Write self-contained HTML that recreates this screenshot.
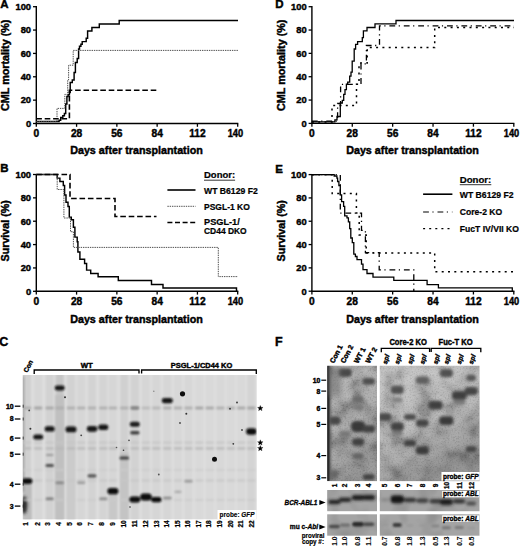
<!DOCTYPE html>
<html><head><meta charset="utf-8"><style>
html,body{margin:0;padding:0;background:#fff;}
body{width:520px;height:547px;overflow:hidden;}
svg{display:block;}
</style></head><body>
<svg width="520" height="547" viewBox="0 0 520 547" font-family="Liberation Sans, sans-serif">
<defs>
<filter id="b1" x="-50%" y="-100%" width="200%" height="300%"><feGaussianBlur stdDeviation="0.9"/></filter>
<filter id="b2" x="-50%" y="-100%" width="200%" height="300%"><feGaussianBlur stdDeviation="1.4"/></filter>
<filter id="b25" x="-50%" y="-100%" width="200%" height="300%"><feGaussianBlur stdDeviation="1.9"/></filter>
<linearGradient id="gv" x1="0" y1="0" x2="0.45" y2="1"><stop offset="0" stop-color="#fff" stop-opacity="0.16"/><stop offset="0.4" stop-color="#fff" stop-opacity="0.03"/><stop offset="0.6" stop-color="#000" stop-opacity="0.03"/><stop offset="1" stop-color="#000" stop-opacity="0.22"/></linearGradient>
<filter id="b3" x="-50%" y="-100%" width="200%" height="300%"><feGaussianBlur stdDeviation="2.2"/></filter>
<filter id="bl" x="-20%" y="-20%" width="140%" height="140%"><feGaussianBlur stdDeviation="0.6"/></filter>
<filter id="noiseF" x="0" y="0" width="100%" height="100%">
<feTurbulence type="fractalNoise" baseFrequency="0.18" numOctaves="3" seed="7" result="n"/>
<feColorMatrix in="n" type="matrix" values="0 0 0 0 0  0 0 0 0 0  0 0 0 0 0  0 0 0 -1.1 0.62" result="m"/>
<feComposite in="m" in2="SourceGraphic" operator="in"/>
</filter>
<filter id="noiseF2" x="0" y="0" width="100%" height="100%">
<feTurbulence type="fractalNoise" baseFrequency="0.05" numOctaves="2" seed="3" result="n"/>
<feColorMatrix in="n" type="matrix" values="0 0 0 0 0  0 0 0 0 0  0 0 0 0 0  0 0 0 -1.4 0.75" result="m"/>
<feComposite in="m" in2="SourceGraphic" operator="in"/>
</filter>
<filter id="grain" x="0" y="0" width="100%" height="100%"><feTurbulence type="fractalNoise" baseFrequency="0.6" numOctaves="2" seed="5"/><feColorMatrix type="matrix" values="2.6 0 0 0 -0.8  2.6 0 0 0 -0.8  2.6 0 0 0 -0.8  0 0 0 0 1"/><feGaussianBlur stdDeviation="0.35"/><feComposite operator="in" in2="SourceGraphic"/></filter>
<filter id="mottle" x="0" y="0" width="100%" height="100%"><feTurbulence type="fractalNoise" baseFrequency="0.06" numOctaves="3" seed="11"/><feColorMatrix type="matrix" values="2.6 0 0 0 -0.8  2.6 0 0 0 -0.8  2.6 0 0 0 -0.8  0 0 0 0 1"/><feGaussianBlur stdDeviation="1.2"/><feComposite operator="in" in2="SourceGraphic"/></filter>
</defs>
<rect width="520" height="547" fill="#fff"/>
<line x1="36.3" y1="6.1000000000000005" x2="36.3" y2="124.1" stroke="#000" stroke-width="1.4"/>
<line x1="35.699999999999996" y1="123.5" x2="238.29999999999998" y2="123.5" stroke="#000" stroke-width="1.4"/>
<line x1="33.0" y1="123.50" x2="36.3" y2="123.50" stroke="#000" stroke-width="1.3"/>
<text x="31.099999999999998" y="126.85" font-size="9.4" font-weight="bold" text-anchor="end" fill="#000" stroke="#000" stroke-width="0.42" >0</text>
<line x1="33.0" y1="100.14" x2="36.3" y2="100.14" stroke="#000" stroke-width="1.3"/>
<text x="31.099999999999998" y="103.49" font-size="9.4" font-weight="bold" text-anchor="end" fill="#000" stroke="#000" stroke-width="0.42" >20</text>
<line x1="33.0" y1="76.78" x2="36.3" y2="76.78" stroke="#000" stroke-width="1.3"/>
<text x="31.099999999999998" y="80.13" font-size="9.4" font-weight="bold" text-anchor="end" fill="#000" stroke="#000" stroke-width="0.42" >40</text>
<line x1="33.0" y1="53.42" x2="36.3" y2="53.42" stroke="#000" stroke-width="1.3"/>
<text x="31.099999999999998" y="56.77" font-size="9.4" font-weight="bold" text-anchor="end" fill="#000" stroke="#000" stroke-width="0.42" >60</text>
<line x1="33.0" y1="30.06" x2="36.3" y2="30.06" stroke="#000" stroke-width="1.3"/>
<text x="31.099999999999998" y="33.410000000000004" font-size="9.4" font-weight="bold" text-anchor="end" fill="#000" stroke="#000" stroke-width="0.42" >80</text>
<line x1="33.0" y1="6.70" x2="36.3" y2="6.70" stroke="#000" stroke-width="1.3"/>
<text x="31.099999999999998" y="10.050000000000002" font-size="9.4" font-weight="bold" text-anchor="end" fill="#000" stroke="#000" stroke-width="0.42" >100</text>
<line x1="36.30" y1="123.5" x2="36.30" y2="126.8" stroke="#000" stroke-width="1.3"/>
<text x="0" y="0" font-size="10.2" font-weight="bold" text-anchor="middle" fill="#000" stroke="#000" stroke-width="0.42" transform="translate(36.3,136.90) scale(1.0,1)">0</text>
<line x1="76.58" y1="123.5" x2="76.58" y2="126.8" stroke="#000" stroke-width="1.3"/>
<text x="0" y="0" font-size="10.2" font-weight="bold" text-anchor="middle" fill="#000" stroke="#000" stroke-width="0.42" transform="translate(76.58,136.90) scale(1.0,1)">28</text>
<line x1="116.86" y1="123.5" x2="116.86" y2="126.8" stroke="#000" stroke-width="1.3"/>
<text x="0" y="0" font-size="10.2" font-weight="bold" text-anchor="middle" fill="#000" stroke="#000" stroke-width="0.42" transform="translate(116.86,136.90) scale(1.0,1)">56</text>
<line x1="157.14" y1="123.5" x2="157.14" y2="126.8" stroke="#000" stroke-width="1.3"/>
<text x="0" y="0" font-size="10.2" font-weight="bold" text-anchor="middle" fill="#000" stroke="#000" stroke-width="0.42" transform="translate(157.14,136.90) scale(1.0,1)">84</text>
<line x1="197.42" y1="123.5" x2="197.42" y2="126.8" stroke="#000" stroke-width="1.3"/>
<text x="0" y="0" font-size="10.2" font-weight="bold" text-anchor="middle" fill="#000" stroke="#000" stroke-width="0.42" transform="translate(197.42,136.90) scale(1.0,1)">112</text>
<line x1="237.70" y1="123.5" x2="237.70" y2="126.8" stroke="#000" stroke-width="1.3"/>
<text x="0" y="0" font-size="10.2" font-weight="bold" text-anchor="middle" fill="#000" stroke="#000" stroke-width="0.42" transform="translate(235.4,136.90) scale(0.91,1)">140</text>
<text x="136.5" y="154.3" font-size="10.6" font-weight="bold" text-anchor="middle" textLength="132.7" lengthAdjust="spacingAndGlyphs" fill="#000" stroke="#000" stroke-width="0.42" >Days after transplantation</text>
<text x="0.3" y="8.2" font-size="11.5" font-weight="bold" text-anchor="start" fill="#000" stroke="#000" stroke-width="0.42" >A</text>
<text x="0" y="0" font-size="10.3" font-weight="bold" text-anchor="start" textLength="91.4" lengthAdjust="spacingAndGlyphs" fill="#000" stroke="#000" stroke-width="0.42" transform="translate(9.3,111.0) rotate(-90)">CML mortality (%)</text>
<path d="M36.30,121.40 L59.10,121.40 L59.10,120.20 L60.70,120.20 L60.70,117.50 L62.80,117.50 L62.80,115.80 L64.40,115.80 L64.40,113.40 L65.70,113.40 L65.70,103.90 L66.90,103.90 L66.90,96.50 L68.10,96.50 L68.10,94.80 L69.40,94.80 L69.40,92.40 L70.20,92.40 L70.20,82.40 L72.30,82.40 L72.30,79.90 L74.10,79.90 L74.10,72.40 L75.40,72.40 L75.40,62.50 L77.20,62.50 L77.20,58.50 L78.60,58.50 L78.60,49.00 L79.50,49.00 L79.50,46.30 L80.90,46.30 L80.90,44.30 L82.20,44.30 L82.20,41.60 L86.20,41.60 L86.20,38.30 L87.60,38.30 L87.60,30.90 L91.90,30.90 L91.90,27.50 L99.30,27.50 L99.30,23.90 L119.20,23.90 L119.20,20.50 L238.00,20.50 L238.00,20.50" fill="none" stroke="#000" stroke-width="1.45" stroke-linejoin="miter" stroke-linecap="butt" />
<path d="M36.30,121.60 L57.00,121.60 L57.00,108.40 L64.80,108.40 L64.80,94.40 L67.70,94.40 L67.70,80.00 L68.60,80.00 L68.60,65.20 L73.20,65.20 L73.20,50.40 L238.00,50.40 L238.00,50.40" fill="none" stroke="#505050" stroke-width="1.0" stroke-dasharray="1.4,0.9" stroke-linejoin="miter" stroke-linecap="butt" />
<path d="M36.30,118.70 L69.40,118.70 L69.40,90.30 L157.00,90.30 L157.00,90.30" fill="none" stroke="#000" stroke-width="1.6" stroke-dasharray="5.6,2.8" stroke-linejoin="miter" stroke-linecap="butt" />
<line x1="36.3" y1="173.9" x2="36.3" y2="291.90000000000003" stroke="#000" stroke-width="1.4"/>
<line x1="35.699999999999996" y1="291.3" x2="238.29999999999998" y2="291.3" stroke="#000" stroke-width="1.4"/>
<line x1="33.0" y1="291.30" x2="36.3" y2="291.30" stroke="#000" stroke-width="1.3"/>
<text x="31.099999999999998" y="294.65000000000003" font-size="9.4" font-weight="bold" text-anchor="end" fill="#000" stroke="#000" stroke-width="0.42" >0</text>
<line x1="33.0" y1="267.94" x2="36.3" y2="267.94" stroke="#000" stroke-width="1.3"/>
<text x="31.099999999999998" y="271.29" font-size="9.4" font-weight="bold" text-anchor="end" fill="#000" stroke="#000" stroke-width="0.42" >20</text>
<line x1="33.0" y1="244.58" x2="36.3" y2="244.58" stroke="#000" stroke-width="1.3"/>
<text x="31.099999999999998" y="247.93" font-size="9.4" font-weight="bold" text-anchor="end" fill="#000" stroke="#000" stroke-width="0.42" >40</text>
<line x1="33.0" y1="221.22" x2="36.3" y2="221.22" stroke="#000" stroke-width="1.3"/>
<text x="31.099999999999998" y="224.57" font-size="9.4" font-weight="bold" text-anchor="end" fill="#000" stroke="#000" stroke-width="0.42" >60</text>
<line x1="33.0" y1="197.86" x2="36.3" y2="197.86" stroke="#000" stroke-width="1.3"/>
<text x="31.099999999999998" y="201.21" font-size="9.4" font-weight="bold" text-anchor="end" fill="#000" stroke="#000" stroke-width="0.42" >80</text>
<line x1="33.0" y1="174.50" x2="36.3" y2="174.50" stroke="#000" stroke-width="1.3"/>
<text x="31.099999999999998" y="177.85" font-size="9.4" font-weight="bold" text-anchor="end" fill="#000" stroke="#000" stroke-width="0.42" >100</text>
<line x1="36.30" y1="291.3" x2="36.30" y2="294.6" stroke="#000" stroke-width="1.3"/>
<text x="0" y="0" font-size="10.2" font-weight="bold" text-anchor="middle" fill="#000" stroke="#000" stroke-width="0.42" transform="translate(36.3,304.70) scale(1.0,1)">0</text>
<line x1="76.58" y1="291.3" x2="76.58" y2="294.6" stroke="#000" stroke-width="1.3"/>
<text x="0" y="0" font-size="10.2" font-weight="bold" text-anchor="middle" fill="#000" stroke="#000" stroke-width="0.42" transform="translate(76.58,304.70) scale(1.0,1)">28</text>
<line x1="116.86" y1="291.3" x2="116.86" y2="294.6" stroke="#000" stroke-width="1.3"/>
<text x="0" y="0" font-size="10.2" font-weight="bold" text-anchor="middle" fill="#000" stroke="#000" stroke-width="0.42" transform="translate(116.86,304.70) scale(1.0,1)">56</text>
<line x1="157.14" y1="291.3" x2="157.14" y2="294.6" stroke="#000" stroke-width="1.3"/>
<text x="0" y="0" font-size="10.2" font-weight="bold" text-anchor="middle" fill="#000" stroke="#000" stroke-width="0.42" transform="translate(157.14,304.70) scale(1.0,1)">84</text>
<line x1="197.42" y1="291.3" x2="197.42" y2="294.6" stroke="#000" stroke-width="1.3"/>
<text x="0" y="0" font-size="10.2" font-weight="bold" text-anchor="middle" fill="#000" stroke="#000" stroke-width="0.42" transform="translate(197.42,304.70) scale(1.0,1)">112</text>
<line x1="237.70" y1="291.3" x2="237.70" y2="294.6" stroke="#000" stroke-width="1.3"/>
<text x="0" y="0" font-size="10.2" font-weight="bold" text-anchor="middle" fill="#000" stroke="#000" stroke-width="0.42" transform="translate(235.4,304.70) scale(0.91,1)">140</text>
<text x="136.5" y="322.7" font-size="10.6" font-weight="bold" text-anchor="middle" textLength="132.7" lengthAdjust="spacingAndGlyphs" fill="#000" stroke="#000" stroke-width="0.42" >Days after transplantation</text>
<text x="0.3" y="171.7" font-size="11.5" font-weight="bold" text-anchor="start" fill="#000" stroke="#000" stroke-width="0.42" >B</text>
<text x="0" y="0" font-size="10.3" font-weight="bold" text-anchor="start" textLength="61.2" lengthAdjust="spacingAndGlyphs" fill="#000" stroke="#000" stroke-width="0.42" transform="translate(9.1,261.4) rotate(-90)">Survival (%)</text>
<path d="M36.30,174.50 L57.20,174.50 L57.20,178.10 L59.90,178.10 L59.90,181.50 L63.30,181.50 L63.30,185.50 L64.60,185.50 L64.60,194.90 L66.00,194.90 L66.00,202.30 L68.00,202.30 L68.00,206.40 L69.30,206.40 L69.30,217.10 L71.30,217.10 L71.30,219.80 L73.40,219.80 L73.40,227.20 L74.90,227.20 L74.90,237.10 L77.20,237.10 L77.20,241.80 L77.90,241.80 L77.90,251.90 L79.90,251.90 L79.90,259.30 L84.60,259.30 L84.60,263.40 L86.60,263.40 L86.60,270.10 L90.70,270.10 L90.70,273.50 L98.10,273.50 L98.10,276.80 L118.30,276.80 L118.30,280.50 L151.50,280.50 L151.50,284.40 L163.00,284.40 L163.00,288.00 L236.50,288.00 L236.50,291.30" fill="none" stroke="#000" stroke-width="1.45" stroke-linejoin="miter" stroke-linecap="butt" />
<path d="M36.30,174.50 L57.20,174.50 L57.20,189.50 L63.90,189.50 L63.90,218.00 L70.50,218.00 L70.50,231.70 L73.40,231.70 L73.40,247.40 L218.30,247.40 L218.30,276.60 L238.00,276.60 L238.00,276.60" fill="none" stroke="#505050" stroke-width="1.0" stroke-dasharray="1.4,0.9" stroke-linejoin="miter" stroke-linecap="butt" />
<path d="M36.30,174.50 L70.00,174.50 L70.00,198.50 L115.00,198.50 L115.00,216.50 L156.50,216.50 L156.50,216.50" fill="none" stroke="#000" stroke-width="1.6" stroke-dasharray="5.6,2.8" stroke-linejoin="miter" stroke-linecap="butt" />
<text x="204" y="177.7" font-size="9.3" font-weight="bold" text-anchor="start" textLength="31.1" lengthAdjust="spacingAndGlyphs" fill="#000" stroke="#000" stroke-width="0.22" >Donor:</text>
<line x1="204" y1="180.2" x2="235.1" y2="180.2" stroke="#000" stroke-width="0.8"/>
<line x1="167.4" y1="190" x2="195.5" y2="190" stroke="#000" stroke-width="1.6"/>
<text x="204" y="193.6" font-size="9.2" font-weight="bold" text-anchor="start" textLength="53.7" lengthAdjust="spacingAndGlyphs" fill="#000" stroke="#000" stroke-width="0.22" >WT B6129 F2</text>
<line x1="167.4" y1="206.3" x2="195.5" y2="206.3" stroke="#505050" stroke-width="1.0" stroke-dasharray="1.4,0.9"/>
<text x="204" y="209.8" font-size="9.2" font-weight="bold" text-anchor="start" textLength="45.9" lengthAdjust="spacingAndGlyphs" fill="#000" stroke="#000" stroke-width="0.22" >PSGL-1 KO</text>
<line x1="167.4" y1="222.5" x2="195.5" y2="222.5" stroke="#000" stroke-width="1.6" stroke-dasharray="5,2.6"/>
<text x="204" y="224.7" font-size="9.2" font-weight="bold" text-anchor="start" fill="#000" stroke="#000" stroke-width="0.22" >PSGL-1/</text>
<text x="204" y="234.4" font-size="9.2" font-weight="bold" text-anchor="start" textLength="42.7" lengthAdjust="spacingAndGlyphs" fill="#000" stroke="#000" stroke-width="0.22" >CD44 DKO</text>
<line x1="311.9" y1="6.1000000000000005" x2="311.9" y2="124.0" stroke="#000" stroke-width="1.4"/>
<line x1="311.29999999999995" y1="123.4" x2="514.4" y2="123.4" stroke="#000" stroke-width="1.4"/>
<line x1="308.59999999999997" y1="123.40" x2="311.9" y2="123.40" stroke="#000" stroke-width="1.3"/>
<text x="306.7" y="126.75" font-size="9.4" font-weight="bold" text-anchor="end" fill="#000" stroke="#000" stroke-width="0.42" >0</text>
<line x1="308.59999999999997" y1="100.06" x2="311.9" y2="100.06" stroke="#000" stroke-width="1.3"/>
<text x="306.7" y="103.41" font-size="9.4" font-weight="bold" text-anchor="end" fill="#000" stroke="#000" stroke-width="0.42" >20</text>
<line x1="308.59999999999997" y1="76.72" x2="311.9" y2="76.72" stroke="#000" stroke-width="1.3"/>
<text x="306.7" y="80.07" font-size="9.4" font-weight="bold" text-anchor="end" fill="#000" stroke="#000" stroke-width="0.42" >40</text>
<line x1="308.59999999999997" y1="53.38" x2="311.9" y2="53.38" stroke="#000" stroke-width="1.3"/>
<text x="306.7" y="56.73" font-size="9.4" font-weight="bold" text-anchor="end" fill="#000" stroke="#000" stroke-width="0.42" >60</text>
<line x1="308.59999999999997" y1="30.04" x2="311.9" y2="30.04" stroke="#000" stroke-width="1.3"/>
<text x="306.7" y="33.39000000000001" font-size="9.4" font-weight="bold" text-anchor="end" fill="#000" stroke="#000" stroke-width="0.42" >80</text>
<line x1="308.59999999999997" y1="6.70" x2="311.9" y2="6.70" stroke="#000" stroke-width="1.3"/>
<text x="306.7" y="10.050000000000002" font-size="9.4" font-weight="bold" text-anchor="end" fill="#000" stroke="#000" stroke-width="0.42" >100</text>
<line x1="311.90" y1="123.4" x2="311.90" y2="126.7" stroke="#000" stroke-width="1.3"/>
<text x="0" y="0" font-size="10.2" font-weight="bold" text-anchor="middle" fill="#000" stroke="#000" stroke-width="0.42" transform="translate(311.9,136.80) scale(1.0,1)">0</text>
<line x1="352.28" y1="123.4" x2="352.28" y2="126.7" stroke="#000" stroke-width="1.3"/>
<text x="0" y="0" font-size="10.2" font-weight="bold" text-anchor="middle" fill="#000" stroke="#000" stroke-width="0.42" transform="translate(352.28,136.80) scale(1.0,1)">28</text>
<line x1="392.66" y1="123.4" x2="392.66" y2="126.7" stroke="#000" stroke-width="1.3"/>
<text x="0" y="0" font-size="10.2" font-weight="bold" text-anchor="middle" fill="#000" stroke="#000" stroke-width="0.42" transform="translate(392.66,136.80) scale(1.0,1)">56</text>
<line x1="433.04" y1="123.4" x2="433.04" y2="126.7" stroke="#000" stroke-width="1.3"/>
<text x="0" y="0" font-size="10.2" font-weight="bold" text-anchor="middle" fill="#000" stroke="#000" stroke-width="0.42" transform="translate(433.04,136.80) scale(1.0,1)">84</text>
<line x1="473.42" y1="123.4" x2="473.42" y2="126.7" stroke="#000" stroke-width="1.3"/>
<text x="0" y="0" font-size="10.2" font-weight="bold" text-anchor="middle" fill="#000" stroke="#000" stroke-width="0.42" transform="translate(473.42,136.80) scale(1.0,1)">112</text>
<line x1="513.80" y1="123.4" x2="513.80" y2="126.7" stroke="#000" stroke-width="1.3"/>
<text x="0" y="0" font-size="10.2" font-weight="bold" text-anchor="middle" fill="#000" stroke="#000" stroke-width="0.42" transform="translate(511.5,136.80) scale(0.91,1)">140</text>
<text x="412.5" y="154.3" font-size="10.6" font-weight="bold" text-anchor="middle" textLength="132.7" lengthAdjust="spacingAndGlyphs" fill="#000" stroke="#000" stroke-width="0.42" >Days after transplantation</text>
<text x="275.2" y="8.4" font-size="11.5" font-weight="bold" text-anchor="start" fill="#000" stroke="#000" stroke-width="0.42" >D</text>
<text x="0" y="0" font-size="10.3" font-weight="bold" text-anchor="start" textLength="91.4" lengthAdjust="spacingAndGlyphs" fill="#000" stroke="#000" stroke-width="0.42" transform="translate(285.2,111.0) rotate(-90)">CML mortality (%)</text>
<path d="M311.90,121.90 L334.90,121.90 L334.90,119.90 L337.00,119.90 L337.00,116.50 L340.30,116.50 L340.30,103.00 L342.30,103.00 L342.30,100.40 L343.70,100.40 L343.70,94.30 L345.00,94.30 L345.00,89.60 L346.40,89.60 L346.40,84.20 L347.70,84.20 L347.70,82.20 L349.70,82.20 L349.70,76.20 L351.00,76.20 L351.00,72.10 L352.20,72.10 L352.20,61.10 L354.20,61.10 L354.20,49.00 L355.60,49.00 L355.60,44.30 L357.60,44.30 L357.60,41.60 L362.30,41.60 L362.30,37.60 L363.40,37.60 L363.40,30.90 L367.00,30.90 L367.00,27.50 L375.00,27.50 L375.00,23.90 L396.00,23.90 L396.00,20.50 L514.00,20.50 L514.00,20.50" fill="none" stroke="#000" stroke-width="1.3" stroke-linejoin="miter" stroke-linecap="butt" />
<path d="M311.90,121.20 L337.60,121.20 L337.60,103.50 L340.60,103.50 L340.60,84.30 L361.00,84.30 L361.00,63.80 L366.40,63.80 L366.40,45.50 L379.50,45.50 L379.50,25.90 L514.00,25.90 L514.00,25.90" fill="none" stroke="#000" stroke-width="1.3" stroke-dasharray="5.8,3.5,1.2,3.9" stroke-linejoin="miter" stroke-linecap="butt" />
<path d="M311.90,122.00 L332.00,122.00 L332.00,105.50 L356.50,105.50 L356.50,84.30 L359.00,84.30 L359.00,63.00 L367.20,63.00 L367.20,47.60 L434.70,47.60 L434.70,27.60 L514.00,27.60 L514.00,27.60" fill="none" stroke="#000" stroke-width="1.5" stroke-dasharray="2,4.3" stroke-linejoin="miter" stroke-linecap="butt" />
<line x1="311.9" y1="174.0" x2="311.9" y2="291.8" stroke="#000" stroke-width="1.4"/>
<line x1="311.29999999999995" y1="291.2" x2="514.4" y2="291.2" stroke="#000" stroke-width="1.4"/>
<line x1="308.59999999999997" y1="291.20" x2="311.9" y2="291.20" stroke="#000" stroke-width="1.3"/>
<text x="306.7" y="294.55" font-size="9.4" font-weight="bold" text-anchor="end" fill="#000" stroke="#000" stroke-width="0.42" >0</text>
<line x1="308.59999999999997" y1="267.88" x2="311.9" y2="267.88" stroke="#000" stroke-width="1.3"/>
<text x="306.7" y="271.23" font-size="9.4" font-weight="bold" text-anchor="end" fill="#000" stroke="#000" stroke-width="0.42" >20</text>
<line x1="308.59999999999997" y1="244.56" x2="311.9" y2="244.56" stroke="#000" stroke-width="1.3"/>
<text x="306.7" y="247.91" font-size="9.4" font-weight="bold" text-anchor="end" fill="#000" stroke="#000" stroke-width="0.42" >40</text>
<line x1="308.59999999999997" y1="221.24" x2="311.9" y2="221.24" stroke="#000" stroke-width="1.3"/>
<text x="306.7" y="224.59" font-size="9.4" font-weight="bold" text-anchor="end" fill="#000" stroke="#000" stroke-width="0.42" >60</text>
<line x1="308.59999999999997" y1="197.92" x2="311.9" y2="197.92" stroke="#000" stroke-width="1.3"/>
<text x="306.7" y="201.26999999999998" font-size="9.4" font-weight="bold" text-anchor="end" fill="#000" stroke="#000" stroke-width="0.42" >80</text>
<line x1="308.59999999999997" y1="174.60" x2="311.9" y2="174.60" stroke="#000" stroke-width="1.3"/>
<text x="306.7" y="177.95" font-size="9.4" font-weight="bold" text-anchor="end" fill="#000" stroke="#000" stroke-width="0.42" >100</text>
<line x1="311.90" y1="291.2" x2="311.90" y2="294.5" stroke="#000" stroke-width="1.3"/>
<text x="0" y="0" font-size="10.2" font-weight="bold" text-anchor="middle" fill="#000" stroke="#000" stroke-width="0.42" transform="translate(311.9,304.60) scale(1.0,1)">0</text>
<line x1="352.28" y1="291.2" x2="352.28" y2="294.5" stroke="#000" stroke-width="1.3"/>
<text x="0" y="0" font-size="10.2" font-weight="bold" text-anchor="middle" fill="#000" stroke="#000" stroke-width="0.42" transform="translate(352.28,304.60) scale(1.0,1)">28</text>
<line x1="392.66" y1="291.2" x2="392.66" y2="294.5" stroke="#000" stroke-width="1.3"/>
<text x="0" y="0" font-size="10.2" font-weight="bold" text-anchor="middle" fill="#000" stroke="#000" stroke-width="0.42" transform="translate(392.66,304.60) scale(1.0,1)">56</text>
<line x1="433.04" y1="291.2" x2="433.04" y2="294.5" stroke="#000" stroke-width="1.3"/>
<text x="0" y="0" font-size="10.2" font-weight="bold" text-anchor="middle" fill="#000" stroke="#000" stroke-width="0.42" transform="translate(433.04,304.60) scale(1.0,1)">84</text>
<line x1="473.42" y1="291.2" x2="473.42" y2="294.5" stroke="#000" stroke-width="1.3"/>
<text x="0" y="0" font-size="10.2" font-weight="bold" text-anchor="middle" fill="#000" stroke="#000" stroke-width="0.42" transform="translate(473.42,304.60) scale(1.0,1)">112</text>
<line x1="513.80" y1="291.2" x2="513.80" y2="294.5" stroke="#000" stroke-width="1.3"/>
<text x="0" y="0" font-size="10.2" font-weight="bold" text-anchor="middle" fill="#000" stroke="#000" stroke-width="0.42" transform="translate(511.5,304.60) scale(0.91,1)">140</text>
<text x="412.5" y="322.7" font-size="10.6" font-weight="bold" text-anchor="middle" textLength="132.7" lengthAdjust="spacingAndGlyphs" fill="#000" stroke="#000" stroke-width="0.42" >Days after transplantation</text>
<text x="275.2" y="173.4" font-size="11.5" font-weight="bold" text-anchor="start" fill="#000" stroke="#000" stroke-width="0.42" >E</text>
<text x="0" y="0" font-size="10.3" font-weight="bold" text-anchor="start" textLength="61.2" lengthAdjust="spacingAndGlyphs" fill="#000" stroke="#000" stroke-width="0.42" transform="translate(284.6,261.4) rotate(-90)">Survival (%)</text>
<path d="M311.90,174.60 L334.20,174.60 L334.20,176.00 L336.90,176.00 L336.90,178.10 L337.60,178.10 L337.60,181.50 L338.90,181.50 L338.90,185.50 L340.30,185.50 L340.30,194.90 L341.60,194.90 L341.60,201.60 L343.60,201.60 L343.60,206.40 L344.70,206.40 L344.70,215.80 L347.00,215.80 L347.00,217.80 L348.40,217.80 L348.40,221.80 L349.70,221.80 L349.70,228.60 L350.80,228.60 L350.80,238.00 L352.30,238.00 L352.30,242.70 L353.80,242.70 L353.80,254.20 L355.40,254.20 L355.40,256.50 L357.00,256.50 L357.00,259.60 L361.50,259.60 L361.50,264.20 L363.00,264.20 L363.00,269.60 L367.00,269.60 L367.00,273.50 L373.00,273.50 L373.00,277.20 L393.80,277.20 L393.80,280.40 L427.10,280.40 L427.10,284.60 L438.40,284.60 L438.40,287.90 L512.30,287.90 L512.30,291.20" fill="none" stroke="#000" stroke-width="1.3" stroke-linejoin="miter" stroke-linecap="butt" />
<path d="M311.90,174.60 L340.30,174.60 L340.30,213.10 L361.50,213.10 L361.50,230.40 L365.40,230.40 L365.40,252.70 L379.20,252.70 L379.20,269.80 L413.80,269.80 L413.80,291.20" fill="none" stroke="#000" stroke-width="1.3" stroke-dasharray="5.8,3.5,1.2,3.9" stroke-linejoin="miter" stroke-linecap="butt" />
<path d="M311.90,174.80 L332.20,174.80 L332.20,193.60 L356.40,193.60 L356.40,213.10 L359.20,213.10 L359.20,235.00 L366.20,235.00 L366.20,252.90 L434.70,252.90 L434.70,271.80 L514.00,271.80 L514.00,271.80" fill="none" stroke="#000" stroke-width="1.5" stroke-dasharray="2,4.3" stroke-linejoin="miter" stroke-linecap="butt" />
<text x="459.8" y="182.5" font-size="9.3" font-weight="bold" text-anchor="start" textLength="31.5" lengthAdjust="spacingAndGlyphs" fill="#000" stroke="#000" stroke-width="0.22" >Donor:</text>
<line x1="459.8" y1="184.7" x2="491.3" y2="184.7" stroke="#000" stroke-width="0.8"/>
<line x1="423.1" y1="194.2" x2="452.4" y2="194.2" stroke="#000" stroke-width="1.6"/>
<text x="459.8" y="198.3" font-size="9.2" font-weight="bold" text-anchor="start" textLength="53.7" lengthAdjust="spacingAndGlyphs" fill="#000" stroke="#000" stroke-width="0.22" >WT B6129 F2</text>
<line x1="423.1" y1="212" x2="452.4" y2="212" stroke="#000" stroke-width="1.2" stroke-dasharray="5.8,3.5,1.2,3.9"/>
<text x="459.8" y="214.8" font-size="9.2" font-weight="bold" text-anchor="start" textLength="42.4" lengthAdjust="spacingAndGlyphs" fill="#000" stroke="#000" stroke-width="0.22" >Core-2 KO</text>
<line x1="423.1" y1="228.6" x2="452.4" y2="228.6" stroke="#000" stroke-width="1.4" stroke-dasharray="2,4.1"/>
<text x="459.8" y="231.6" font-size="9.2" font-weight="bold" text-anchor="start" textLength="59.2" lengthAdjust="spacingAndGlyphs" fill="#000" stroke="#000" stroke-width="0.22" >FucT IV/VII KO</text>
<text x="-0.8" y="346.2" font-size="12.5" font-weight="bold" text-anchor="start" fill="#000" stroke="#000" stroke-width="0.42" >C</text>
<rect x="22.8" y="375.0" width="233.9" height="144.2" fill="#dedede"/>
<clipPath id="gc"><rect x="22.8" y="375.0" width="233.9" height="144.2"/></clipPath>
<g clip-path="url(#gc)">
<g filter="url(#b1)">
<rect x="23.2" y="372.0" width="8.0" height="150.2" fill="#d0d0d0"/>
<rect x="34.2" y="372.0" width="8.0" height="150.2" fill="#d6d6d6"/>
<rect x="45.7" y="372.0" width="8.0" height="150.2" fill="#d2d2d2"/>
<rect x="55.7" y="372.0" width="8.0" height="150.2" fill="#c6c6c6"/>
<rect x="67.0" y="372.0" width="8.0" height="150.2" fill="#d2d2d2"/>
<rect x="77.2" y="372.0" width="8.0" height="150.2" fill="#d6d6d6"/>
<rect x="88.0" y="372.0" width="8.0" height="150.2" fill="#d3d3d3"/>
<rect x="99.3" y="372.0" width="8.0" height="150.2" fill="#d4d4d4"/>
<rect x="108.9" y="372.0" width="8.0" height="150.2" fill="#d6d6d6"/>
<rect x="120.3" y="372.0" width="8.0" height="150.2" fill="#d0d0d0"/>
<rect x="130.8" y="372.0" width="8.0" height="150.2" fill="#d2d2d2"/>
<rect x="141.9" y="372.0" width="8.0" height="150.2" fill="#d6d6d6"/>
<rect x="152.3" y="372.0" width="8.0" height="150.2" fill="#d6d6d6"/>
<rect x="163.3" y="372.0" width="8.0" height="150.2" fill="#d6d6d6"/>
<rect x="174.0" y="372.0" width="8.0" height="150.2" fill="#d8d8d8"/>
<rect x="184.5" y="372.0" width="8.0" height="150.2" fill="#d7d7d7"/>
<rect x="195.3" y="372.0" width="8.0" height="150.2" fill="#d9d9d9"/>
<rect x="205.8" y="372.0" width="8.0" height="150.2" fill="#d9d9d9"/>
<rect x="216.4" y="372.0" width="8.0" height="150.2" fill="#d8d8d8"/>
<rect x="226.9" y="372.0" width="8.0" height="150.2" fill="#d9d9d9"/>
<rect x="237.2" y="372.0" width="8.0" height="150.2" fill="#d9d9d9"/>
<rect x="247.3" y="372.0" width="8.0" height="150.2" fill="#d4d4d4"/>
</g>
<rect x="108.6" y="488" width="8.6" height="40" fill="#c8c8c8" filter="url(#b1)"/>
<rect x="120.0" y="452" width="8.6" height="72" fill="#c4c4c4" filter="url(#b1)"/>
<rect x="66.7" y="425" width="8.6" height="100" fill="#cbcbcb" filter="url(#b1)"/>
<rect x="55.4" y="395" width="8.6" height="130" fill="#c0c0c0" filter="url(#b1)"/>
<rect x="22.8" y="484" width="9" height="40" fill="#bcbcbc" filter="url(#b1)"/>
<ellipse cx="24.3" cy="505" rx="3" ry="9" fill="#2a2a2a" filter="url(#b2)"/>
<rect x="20.8" y="376" width="3.2" height="116" fill="#9a9a9a" filter="url(#b2)"/>
<g filter="url(#b1)">
<rect x="23.2" y="406.7" width="8" height="2.6" fill="#acacac"/>
<rect x="34.2" y="406.7" width="8" height="2.6" fill="#a0a0a0"/>
<rect x="45.7" y="406.7" width="8" height="2.6" fill="#a4a4a4"/>
<rect x="55.7" y="406.7" width="8" height="2.6" fill="#acacac"/>
<rect x="67.0" y="406.7" width="8" height="2.6" fill="#acacac"/>
<rect x="77.2" y="406.7" width="8" height="2.6" fill="#acacac"/>
<rect x="88.0" y="406.7" width="8" height="2.6" fill="#acacac"/>
<rect x="99.3" y="406.7" width="8" height="2.6" fill="#acacac"/>
<rect x="108.9" y="406.7" width="8" height="2.6" fill="#acacac"/>
<rect x="120.3" y="406.7" width="8" height="2.6" fill="#acacac"/>
<rect x="130.8" y="406.7" width="8" height="2.6" fill="#acacac"/>
<rect x="141.9" y="406.7" width="8" height="2.6" fill="#b8b8b8"/>
<rect x="152.3" y="406.7" width="8" height="2.6" fill="#b4b4b4"/>
<rect x="163.3" y="406.7" width="8" height="2.6" fill="#a8a8a8"/>
<rect x="174.0" y="406.7" width="8" height="2.6" fill="#acacac"/>
<rect x="184.5" y="406.7" width="8" height="2.6" fill="#acacac"/>
<rect x="195.3" y="406.7" width="8" height="2.6" fill="#a0a0a0"/>
<rect x="205.8" y="406.7" width="8" height="2.6" fill="#a4a4a4"/>
<rect x="216.4" y="406.7" width="8" height="2.6" fill="#acacac"/>
<rect x="226.9" y="406.7" width="8" height="2.6" fill="#acacac"/>
<rect x="237.2" y="406.7" width="8" height="2.6" fill="#a4a4a4"/>
<rect x="247.3" y="406.7" width="8" height="2.6" fill="#a0a0a0"/>
<rect x="23.2" y="441.6" width="8" height="2.0" fill="#c6c6c6"/>
<rect x="34.2" y="441.6" width="8" height="2.0" fill="#c6c6c6"/>
<rect x="45.7" y="441.6" width="8" height="2.0" fill="#c6c6c6"/>
<rect x="55.7" y="441.6" width="8" height="2.0" fill="#c6c6c6"/>
<rect x="67.0" y="441.6" width="8" height="2.0" fill="#c6c6c6"/>
<rect x="77.2" y="441.6" width="8" height="2.0" fill="#c6c6c6"/>
<rect x="88.0" y="441.6" width="8" height="2.0" fill="#c6c6c6"/>
<rect x="99.3" y="441.6" width="8" height="2.0" fill="#c6c6c6"/>
<rect x="108.9" y="441.6" width="8" height="2.0" fill="#c6c6c6"/>
<rect x="120.3" y="441.6" width="8" height="2.0" fill="#c6c6c6"/>
<rect x="130.8" y="441.6" width="8" height="2.0" fill="#c6c6c6"/>
<rect x="141.9" y="441.6" width="8" height="2.0" fill="#c6c6c6"/>
<rect x="152.3" y="441.6" width="8" height="2.0" fill="#c6c6c6"/>
<rect x="163.3" y="441.6" width="8" height="2.0" fill="#c6c6c6"/>
<rect x="174.0" y="441.6" width="8" height="2.0" fill="#c6c6c6"/>
<rect x="184.5" y="441.6" width="8" height="2.0" fill="#c6c6c6"/>
<rect x="195.3" y="441.6" width="8" height="2.0" fill="#c6c6c6"/>
<rect x="205.8" y="441.6" width="8" height="2.0" fill="#c6c6c6"/>
<rect x="216.4" y="441.6" width="8" height="2.0" fill="#c6c6c6"/>
<rect x="226.9" y="441.6" width="8" height="2.0" fill="#c6c6c6"/>
<rect x="237.2" y="441.6" width="8" height="2.0" fill="#c6c6c6"/>
<rect x="247.3" y="441.6" width="8" height="2.0" fill="#c6c6c6"/>
<rect x="23.2" y="447.3" width="8" height="2.2" fill="#b8b8b8"/>
<rect x="34.2" y="447.3" width="8" height="2.2" fill="#b8b8b8"/>
<rect x="45.7" y="447.3" width="8" height="2.2" fill="#b8b8b8"/>
<rect x="55.7" y="447.3" width="8" height="2.2" fill="#b8b8b8"/>
<rect x="67.0" y="447.3" width="8" height="2.2" fill="#b8b8b8"/>
<rect x="77.2" y="447.3" width="8" height="2.2" fill="#b8b8b8"/>
<rect x="88.0" y="447.3" width="8" height="2.2" fill="#b8b8b8"/>
<rect x="99.3" y="447.3" width="8" height="2.2" fill="#b8b8b8"/>
<rect x="108.9" y="447.3" width="8" height="2.2" fill="#b8b8b8"/>
<rect x="120.3" y="447.3" width="8" height="2.2" fill="#b8b8b8"/>
<rect x="130.8" y="447.3" width="8" height="2.2" fill="#b8b8b8"/>
<rect x="141.9" y="447.3" width="8" height="2.2" fill="#b8b8b8"/>
<rect x="152.3" y="447.3" width="8" height="2.2" fill="#b8b8b8"/>
<rect x="163.3" y="447.3" width="8" height="2.2" fill="#b8b8b8"/>
<rect x="174.0" y="447.3" width="8" height="2.2" fill="#b8b8b8"/>
<rect x="184.5" y="447.3" width="8" height="2.2" fill="#b8b8b8"/>
<rect x="195.3" y="447.3" width="8" height="2.2" fill="#b8b8b8"/>
<rect x="205.8" y="447.3" width="8" height="2.2" fill="#b8b8b8"/>
<rect x="216.4" y="447.3" width="8" height="2.2" fill="#b8b8b8"/>
<rect x="226.9" y="447.3" width="8" height="2.2" fill="#b8b8b8"/>
<rect x="237.2" y="447.3" width="8" height="2.2" fill="#b8b8b8"/>
<rect x="247.3" y="447.3" width="8" height="2.2" fill="#b8b8b8"/>
<rect x="23.2" y="479.5" width="8" height="2.0" fill="#c8c8c8"/>
<rect x="34.2" y="479.5" width="8" height="2.0" fill="#c8c8c8"/>
<rect x="45.7" y="479.5" width="8" height="2.0" fill="#c8c8c8"/>
<rect x="55.7" y="479.5" width="8" height="2.0" fill="#c8c8c8"/>
<rect x="67.0" y="479.5" width="8" height="2.0" fill="#c8c8c8"/>
<rect x="77.2" y="479.5" width="8" height="2.0" fill="#c8c8c8"/>
<rect x="88.0" y="479.5" width="8" height="2.0" fill="#c8c8c8"/>
<rect x="99.3" y="479.5" width="8" height="2.0" fill="#c8c8c8"/>
<rect x="108.9" y="479.5" width="8" height="2.0" fill="#c8c8c8"/>
<rect x="120.3" y="479.5" width="8" height="2.0" fill="#c8c8c8"/>
<rect x="130.8" y="479.5" width="8" height="2.0" fill="#c8c8c8"/>
<rect x="141.9" y="479.5" width="8" height="2.0" fill="#c8c8c8"/>
<rect x="152.3" y="479.5" width="8" height="2.0" fill="#c8c8c8"/>
<rect x="163.3" y="479.5" width="8" height="2.0" fill="#c8c8c8"/>
<rect x="174.0" y="479.5" width="8" height="2.0" fill="#c8c8c8"/>
<rect x="184.5" y="479.5" width="8" height="2.0" fill="#c8c8c8"/>
<rect x="195.3" y="479.5" width="8" height="2.0" fill="#c8c8c8"/>
<rect x="205.8" y="479.5" width="8" height="2.0" fill="#c8c8c8"/>
<rect x="216.4" y="479.5" width="8" height="2.0" fill="#c8c8c8"/>
<rect x="226.9" y="479.5" width="8" height="2.0" fill="#c8c8c8"/>
<rect x="237.2" y="479.5" width="8" height="2.0" fill="#c8c8c8"/>
<rect x="247.3" y="479.5" width="8" height="2.0" fill="#c8c8c8"/>
<rect x="23.2" y="469.2" width="8" height="1.6" fill="#cccccc"/>
<rect x="34.2" y="469.2" width="8" height="1.6" fill="#cccccc"/>
<rect x="45.7" y="469.2" width="8" height="1.6" fill="#cccccc"/>
<rect x="55.7" y="469.2" width="8" height="1.6" fill="#cccccc"/>
<rect x="67.0" y="469.2" width="8" height="1.6" fill="#cccccc"/>
<rect x="77.2" y="469.2" width="8" height="1.6" fill="#cccccc"/>
<rect x="88.0" y="469.2" width="8" height="1.6" fill="#cccccc"/>
<rect x="99.3" y="469.2" width="8" height="1.6" fill="#cccccc"/>
<rect x="108.9" y="469.2" width="8" height="1.6" fill="#cccccc"/>
<rect x="120.3" y="469.2" width="8" height="1.6" fill="#cccccc"/>
<rect x="130.8" y="469.2" width="8" height="1.6" fill="#cccccc"/>
<rect x="141.9" y="469.2" width="8" height="1.6" fill="#cccccc"/>
<rect x="152.3" y="469.2" width="8" height="1.6" fill="#cccccc"/>
<rect x="163.3" y="469.2" width="8" height="1.6" fill="#cccccc"/>
<rect x="174.0" y="469.2" width="8" height="1.6" fill="#cccccc"/>
<rect x="184.5" y="469.2" width="8" height="1.6" fill="#cccccc"/>
<rect x="195.3" y="469.2" width="8" height="1.6" fill="#cccccc"/>
<rect x="205.8" y="469.2" width="8" height="1.6" fill="#cccccc"/>
<rect x="216.4" y="469.2" width="8" height="1.6" fill="#cccccc"/>
<rect x="226.9" y="469.2" width="8" height="1.6" fill="#cccccc"/>
<rect x="237.2" y="469.2" width="8" height="1.6" fill="#cccccc"/>
<rect x="247.3" y="469.2" width="8" height="1.6" fill="#cccccc"/>
<rect x="23.2" y="499.2" width="8" height="1.6" fill="#cbcbcb"/>
<rect x="34.2" y="499.2" width="8" height="1.6" fill="#cbcbcb"/>
<rect x="45.7" y="499.2" width="8" height="1.6" fill="#cbcbcb"/>
<rect x="55.7" y="499.2" width="8" height="1.6" fill="#cbcbcb"/>
<rect x="67.0" y="499.2" width="8" height="1.6" fill="#cbcbcb"/>
<rect x="77.2" y="499.2" width="8" height="1.6" fill="#cbcbcb"/>
<rect x="88.0" y="499.2" width="8" height="1.6" fill="#cbcbcb"/>
<rect x="99.3" y="499.2" width="8" height="1.6" fill="#cbcbcb"/>
<rect x="108.9" y="499.2" width="8" height="1.6" fill="#cbcbcb"/>
<rect x="120.3" y="499.2" width="8" height="1.6" fill="#cbcbcb"/>
<rect x="130.8" y="499.2" width="8" height="1.6" fill="#cbcbcb"/>
<rect x="141.9" y="499.2" width="8" height="1.6" fill="#cbcbcb"/>
<rect x="152.3" y="499.2" width="8" height="1.6" fill="#cbcbcb"/>
<rect x="163.3" y="499.2" width="8" height="1.6" fill="#cbcbcb"/>
<rect x="174.0" y="499.2" width="8" height="1.6" fill="#cbcbcb"/>
<rect x="184.5" y="499.2" width="8" height="1.6" fill="#cbcbcb"/>
<rect x="195.3" y="499.2" width="8" height="1.6" fill="#cbcbcb"/>
<rect x="205.8" y="499.2" width="8" height="1.6" fill="#cbcbcb"/>
<rect x="216.4" y="499.2" width="8" height="1.6" fill="#cbcbcb"/>
<rect x="226.9" y="499.2" width="8" height="1.6" fill="#cbcbcb"/>
<rect x="237.2" y="499.2" width="8" height="1.6" fill="#cbcbcb"/>
<rect x="247.3" y="499.2" width="8" height="1.6" fill="#cbcbcb"/>
</g>
<g filter="url(#b1)">
<rect x="21.9" y="478.2" width="10.5" height="5.75" rx="2.9" fill="#111"/>
<rect x="33.2" y="434.4" width="10" height="5.06" rx="2.5" fill="#141414"/>
<rect x="44.7" y="426.2" width="10" height="5.29" rx="2.6" fill="#141414"/>
<rect x="45.5" y="463.9" width="8.5" height="3.00" rx="1.5" fill="#505050"/>
<rect x="46.0" y="454.0" width="7.5" height="2.00" rx="1.0" fill="#999"/>
<rect x="45.7" y="497.5" width="8" height="2.60" rx="1.3" fill="#7a7a7a"/>
<rect x="54.7" y="385.6" width="10" height="4.83" rx="2.4" fill="#141414"/>
<rect x="55.5" y="481.2" width="8.5" height="3.00" rx="1.5" fill="#8a8a8a"/>
<rect x="65.5" y="426.6" width="11" height="5.75" rx="2.9" fill="#141414"/>
<rect x="77.2" y="481.5" width="8" height="2.40" rx="1.2" fill="#9a9a9a"/>
<rect x="86.8" y="425.9" width="10.5" height="5.75" rx="2.9" fill="#141414"/>
<rect x="87.5" y="474.2" width="9" height="3.20" rx="1.6" fill="#555"/>
<rect x="98.3" y="424.6" width="10" height="5.29" rx="2.6" fill="#141414"/>
<rect x="99.3" y="497.5" width="8" height="2.60" rx="1.3" fill="#8a8a8a"/>
<rect x="107.4" y="488.1" width="11" height="6.21" rx="3.1" fill="#0d0d0d"/>
<rect x="119.5" y="456.4" width="9.5" height="3.20" rx="1.6" fill="#3c3c3c"/>
<rect x="129.8" y="421.7" width="10" height="5.06" rx="2.5" fill="#1e1e1e"/>
<rect x="130.1" y="431.0" width="9.5" height="3.60" rx="1.8" fill="#404040"/>
<rect x="129.3" y="496.5" width="11" height="5.98" rx="3.0" fill="#0d0d0d"/>
<rect x="130.6" y="406.6" width="8.5" height="2.80" rx="1.4" fill="#808080"/>
<rect x="140.2" y="493.6" width="11.5" height="6.90" rx="3.4" fill="#0a0a0a"/>
<rect x="151.1" y="496.9" width="10.5" height="5.29" rx="2.6" fill="#111"/>
<rect x="161.8" y="397.9" width="11" height="5.29" rx="2.6" fill="#141414"/>
<rect x="163.1" y="496.7" width="8.5" height="2.60" rx="1.3" fill="#8a8a8a"/>
<rect x="174.5" y="490.7" width="7" height="2.20" rx="1.1" fill="#a8a8a8"/>
<rect x="184.5" y="480.1" width="8" height="2.40" rx="1.2" fill="#999"/>
<rect x="246.1" y="428.3" width="10.5" height="6.44" rx="3.2" fill="#111"/>
</g>
<circle cx="182.5" cy="393.8" r="2.6" fill="#111" filter="url(#bl)"/>
<circle cx="214.5" cy="459.3" r="2.5" fill="#111" filter="url(#bl)"/>
<circle cx="29.2" cy="410.4" r="0.9" fill="#444" filter="url(#bl)"/>
<circle cx="30.4" cy="428.8" r="1.0" fill="#333" filter="url(#bl)"/>
<circle cx="65" cy="397.2" r="1.0" fill="#333" filter="url(#bl)"/>
<circle cx="81.2" cy="435.3" r="0.9" fill="#444" filter="url(#bl)"/>
<circle cx="129" cy="440.4" r="0.8" fill="#444" filter="url(#bl)"/>
<circle cx="186.3" cy="413.8" r="1.0" fill="#333" filter="url(#bl)"/>
<circle cx="180" cy="423" r="0.9" fill="#444" filter="url(#bl)"/>
<circle cx="230" cy="408.8" r="1.0" fill="#444" filter="url(#bl)"/>
<circle cx="237" cy="402.5" r="0.9" fill="#333" filter="url(#bl)"/>
<circle cx="242" cy="430" r="0.9" fill="#444" filter="url(#bl)"/>
<circle cx="233.3" cy="443.8" r="0.9" fill="#333" filter="url(#bl)"/>
<circle cx="158.8" cy="474.5" r="0.9" fill="#555" filter="url(#bl)"/>
<circle cx="123.5" cy="450.2" r="0.8" fill="#333" filter="url(#bl)"/>
<circle cx="116.5" cy="447.5" r="0.8" fill="#555" filter="url(#bl)"/>
<circle cx="130" cy="507" r="0.8" fill="#333" filter="url(#bl)"/>
<circle cx="153.8" cy="391.3" r="0.8" fill="#888" filter="url(#bl)"/>
</g>
<rect x="217.5" y="510" width="39" height="9.4" fill="#fff"/>
<text x="219.6" y="517.4" font-size="7.3" font-weight="bold" textLength="34.9" lengthAdjust="spacingAndGlyphs" stroke="#000" stroke-width="0.15">probe: <tspan font-style="italic">GFP</tspan></text>
<text x="13.6" y="408.65" font-size="6.9" font-weight="bold" text-anchor="end" fill="#000" stroke="#000" stroke-width="0.4" >10</text>
<line x1="14.8" y1="406.2" x2="20.4" y2="406.2" stroke="#000" stroke-width="1.3"/>
<line x1="23.2" y1="404.7" x2="23.2" y2="407.7" stroke="#222" stroke-width="0.8"/>
<text x="13.6" y="421.45" font-size="6.9" font-weight="bold" text-anchor="end" fill="#000" stroke="#000" stroke-width="0.4" >8</text>
<line x1="14.8" y1="419" x2="20.4" y2="419" stroke="#000" stroke-width="1.3"/>
<line x1="23.2" y1="417.5" x2="23.2" y2="420.5" stroke="#222" stroke-width="0.8"/>
<text x="13.6" y="440.55" font-size="6.9" font-weight="bold" text-anchor="end" fill="#000" stroke="#000" stroke-width="0.4" >6</text>
<line x1="14.8" y1="438.1" x2="20.4" y2="438.1" stroke="#000" stroke-width="1.3"/>
<line x1="23.2" y1="436.6" x2="23.2" y2="439.6" stroke="#222" stroke-width="0.8"/>
<text x="13.6" y="456.65" font-size="6.9" font-weight="bold" text-anchor="end" fill="#000" stroke="#000" stroke-width="0.4" >5</text>
<line x1="14.8" y1="454.2" x2="20.4" y2="454.2" stroke="#000" stroke-width="1.3"/>
<line x1="23.2" y1="452.7" x2="23.2" y2="455.7" stroke="#222" stroke-width="0.8"/>
<text x="13.6" y="486.65" font-size="6.9" font-weight="bold" text-anchor="end" fill="#000" stroke="#000" stroke-width="0.4" >4</text>
<line x1="14.8" y1="484.2" x2="20.4" y2="484.2" stroke="#000" stroke-width="1.3"/>
<line x1="23.2" y1="482.7" x2="23.2" y2="485.7" stroke="#222" stroke-width="0.8"/>
<text x="13.6" y="508.55" font-size="6.9" font-weight="bold" text-anchor="end" fill="#000" stroke="#000" stroke-width="0.4" >3</text>
<line x1="14.8" y1="506.1" x2="20.4" y2="506.1" stroke="#000" stroke-width="1.3"/>
<line x1="23.2" y1="504.6" x2="23.2" y2="507.6" stroke="#222" stroke-width="0.8"/>
<path d="M34.2,374 L34.2,370 L139,370 L139,373.6" fill="none" stroke="#000" stroke-width="1.35"/>
<path d="M141.6,373.6 L141.6,370 L256.3,370 L256.3,374" fill="none" stroke="#000" stroke-width="1.35"/>
<text x="80.8" y="367.6" font-size="7.6" font-weight="bold" text-anchor="start" textLength="12" lengthAdjust="spacingAndGlyphs" fill="#000" stroke="#000" stroke-width="0.42" >WT</text>
<text x="170.8" y="367.6" font-size="7.8" font-weight="bold" text-anchor="start" textLength="61.5" lengthAdjust="spacingAndGlyphs" fill="#000" stroke="#000" stroke-width="0.42" >PSGL-1/CD44 KO</text>
<text x="0" y="0" font-size="6.6" font-weight="bold" text-anchor="start" fill="#000" stroke="#000" stroke-width="0.42" transform="translate(27.2,373) rotate(-62)">Con</text>
<polygon points="260.30,405.40 261.03,407.29 263.06,407.40 261.49,408.69 262.00,410.65 260.30,409.55 258.60,410.65 259.11,408.69 257.54,407.40 259.57,407.29" fill="#000" stroke="#000" stroke-width="0.3"/>
<polygon points="260.30,439.80 261.03,441.69 263.06,441.80 261.49,443.09 262.00,445.05 260.30,443.95 258.60,445.05 259.11,443.09 257.54,441.80 259.57,441.69" fill="#000" stroke="#000" stroke-width="0.3"/>
<polygon points="260.30,445.50 261.03,447.39 263.06,447.50 261.49,448.79 262.00,450.75 260.30,449.65 258.60,450.75 259.11,448.79 257.54,447.50 259.57,447.39" fill="#000" stroke="#000" stroke-width="0.3"/>
<text x="0" y="0" font-size="6.5" font-weight="bold" text-anchor="middle" fill="#000" stroke="#000" stroke-width="0.25" transform="translate(28.3,523.9) rotate(-90)">1</text>
<text x="0" y="0" font-size="6.5" font-weight="bold" text-anchor="middle" fill="#000" stroke="#000" stroke-width="0.25" transform="translate(39.8,523.9) rotate(-90)">2</text>
<text x="0" y="0" font-size="6.5" font-weight="bold" text-anchor="middle" fill="#000" stroke="#000" stroke-width="0.25" transform="translate(50.3,523.9) rotate(-90)">3</text>
<text x="0" y="0" font-size="6.5" font-weight="bold" text-anchor="middle" fill="#000" stroke="#000" stroke-width="0.25" transform="translate(61.0,523.9) rotate(-90)">4</text>
<text x="0" y="0" font-size="6.5" font-weight="bold" text-anchor="middle" fill="#000" stroke="#000" stroke-width="0.25" transform="translate(71.5,523.9) rotate(-90)">5</text>
<text x="0" y="0" font-size="6.5" font-weight="bold" text-anchor="middle" fill="#000" stroke="#000" stroke-width="0.25" transform="translate(82.0,523.9) rotate(-90)">6</text>
<text x="0" y="0" font-size="6.5" font-weight="bold" text-anchor="middle" fill="#000" stroke="#000" stroke-width="0.25" transform="translate(93.3,523.9) rotate(-90)">7</text>
<text x="0" y="0" font-size="6.5" font-weight="bold" text-anchor="middle" fill="#000" stroke="#000" stroke-width="0.25" transform="translate(104.1,523.9) rotate(-90)">8</text>
<text x="0" y="0" font-size="6.5" font-weight="bold" text-anchor="middle" fill="#000" stroke="#000" stroke-width="0.25" transform="translate(114.8,523.9) rotate(-90)">9</text>
<text x="0" y="0" font-size="6.5" font-weight="bold" text-anchor="middle" fill="#000" stroke="#000" stroke-width="0.25" transform="translate(125.6,523.9) rotate(-90)">10</text>
<text x="0" y="0" font-size="6.5" font-weight="bold" text-anchor="middle" fill="#000" stroke="#000" stroke-width="0.25" transform="translate(136.6,523.9) rotate(-90)">11</text>
<text x="0" y="0" font-size="6.5" font-weight="bold" text-anchor="middle" fill="#000" stroke="#000" stroke-width="0.25" transform="translate(147.6,523.9) rotate(-90)">12</text>
<text x="0" y="0" font-size="6.5" font-weight="bold" text-anchor="middle" fill="#000" stroke="#000" stroke-width="0.25" transform="translate(158.7,523.9) rotate(-90)">13</text>
<text x="0" y="0" font-size="6.5" font-weight="bold" text-anchor="middle" fill="#000" stroke="#000" stroke-width="0.25" transform="translate(168.8,523.9) rotate(-90)">14</text>
<text x="0" y="0" font-size="6.5" font-weight="bold" text-anchor="middle" fill="#000" stroke="#000" stroke-width="0.25" transform="translate(180.2,523.9) rotate(-90)">15</text>
<text x="0" y="0" font-size="6.5" font-weight="bold" text-anchor="middle" fill="#000" stroke="#000" stroke-width="0.25" transform="translate(190.2,523.9) rotate(-90)">16</text>
<text x="0" y="0" font-size="6.5" font-weight="bold" text-anchor="middle" fill="#000" stroke="#000" stroke-width="0.25" transform="translate(201.3,523.9) rotate(-90)">17</text>
<text x="0" y="0" font-size="6.5" font-weight="bold" text-anchor="middle" fill="#000" stroke="#000" stroke-width="0.25" transform="translate(211.2,523.9) rotate(-90)">18</text>
<text x="0" y="0" font-size="6.5" font-weight="bold" text-anchor="middle" fill="#000" stroke="#000" stroke-width="0.25" transform="translate(222.3,523.9) rotate(-90)">19</text>
<text x="0" y="0" font-size="6.5" font-weight="bold" text-anchor="middle" fill="#000" stroke="#000" stroke-width="0.25" transform="translate(232.7,523.9) rotate(-90)">20</text>
<text x="0" y="0" font-size="6.5" font-weight="bold" text-anchor="middle" fill="#000" stroke="#000" stroke-width="0.25" transform="translate(243.2,523.9) rotate(-90)">21</text>
<text x="0" y="0" font-size="6.5" font-weight="bold" text-anchor="middle" fill="#000" stroke="#000" stroke-width="0.25" transform="translate(253.8,523.9) rotate(-90)">22</text>
<text x="275.0" y="346.3" font-size="12.5" font-weight="bold" text-anchor="start" fill="#000" stroke="#000" stroke-width="0.42" >F</text>
<clipPath id="gf1"><rect x="327.2" y="365.8" width="49.8" height="115.3"/></clipPath>
<clipPath id="gf2"><rect x="379.8" y="365.8" width="99.7" height="115.3"/></clipPath>
<rect x="327.2" y="365.8" width="49.8" height="115.3" fill="#9e9e9e"/>
<rect x="327.2" y="365.8" width="49.8" height="115.3" fill="#000" filter="url(#mottle)" opacity="0.2"/>
<rect x="327.2" y="365.8" width="49.8" height="115.3" fill="#000" filter="url(#grain)" opacity="0.07"/>
<rect x="379.8" y="365.8" width="99.7" height="115.3" fill="#aeaeae"/>
<rect x="379.8" y="365.8" width="99.7" height="115.3" fill="#000" filter="url(#mottle)" opacity="0.2"/>
<rect x="379.8" y="365.8" width="99.7" height="115.3" fill="#000" filter="url(#grain)" opacity="0.07"/>
<g clip-path="url(#gf1)"><g filter="url(#b2)">
<rect x="338.1" y="368.3" width="13.8" height="8.7" rx="3.9" fill="#3e3e3e"/>
<rect x="362.4" y="378.0" width="12.6" height="6.8" rx="3.0" fill="#4b4b4b"/>
<rect x="352.6" y="396.1" width="10.8" height="6.2" rx="2.8" fill="#6a6a6a"/>
<rect x="350.8" y="420.9" width="14.4" height="11.2" rx="5.0" fill="#3b3b3b"/>
<rect x="352.0" y="438.3" width="12.0" height="7.4" rx="3.3" fill="#444444"/>
<rect x="352.6" y="453.1" width="10.8" height="6.2" rx="2.8" fill="#707070"/>
<rect x="328.0" y="416.6" width="12.6" height="8.1" rx="3.6" fill="#444444"/>
<rect x="362.4" y="425.2" width="12.6" height="7.4" rx="3.3" fill="#454545"/>
<rect x="362.7" y="473.9" width="12.0" height="6.2" rx="2.8" fill="#4e4e4e"/>
<rect x="330.7" y="470.3" width="7.2" height="7.4" rx="3.3" fill="#707070"/>
<rect x="339.6" y="430.9" width="10.8" height="6.2" rx="2.8" fill="#7a7a7a"/>
<rect x="352.6" y="404.5" width="10.8" height="5.0" rx="2.2" fill="#7a7a7a"/>
</g></g>
<g clip-path="url(#gf2)"><g filter="url(#b2)">
<rect x="378.4" y="413.0" width="13.2" height="8.1" rx="3.6" fill="#444444"/>
<rect x="390.6" y="385.4" width="13.2" height="8.7" rx="3.9" fill="#424242"/>
<rect x="390.6" y="422.2" width="13.2" height="8.7" rx="3.9" fill="#414141"/>
<rect x="404.0" y="413.9" width="12.0" height="6.2" rx="2.8" fill="#4b4b4b"/>
<rect x="404.0" y="440.0" width="12.0" height="6.2" rx="2.8" fill="#454545"/>
<rect x="415.7" y="376.5" width="13.2" height="7.4" rx="3.3" fill="#525252"/>
<rect x="416.0" y="419.6" width="12.6" height="6.8" rx="3.0" fill="#454545"/>
<rect x="415.7" y="446.3" width="13.2" height="8.1" rx="3.6" fill="#424242"/>
<rect x="428.3" y="400.8" width="14.4" height="8.7" rx="3.9" fill="#3e3e3e"/>
<rect x="439.7" y="369.1" width="13.2" height="8.1" rx="3.6" fill="#444444"/>
<rect x="439.1" y="416.3" width="14.4" height="8.7" rx="3.9" fill="#3e3e3e"/>
<rect x="452.0" y="391.3" width="14.4" height="8.7" rx="3.9" fill="#3e3e3e"/>
<rect x="466.4" y="374.4" width="9.6" height="6.8" rx="3.0" fill="#555555"/>
<rect x="464.6" y="386.9" width="13.2" height="8.1" rx="3.6" fill="#454545"/>
<rect x="465.8" y="446.0" width="10.8" height="6.2" rx="2.8" fill="#585858"/>
<rect x="391.8" y="397.5" width="10.8" height="5.0" rx="2.2" fill="#7a7a7a"/>
<rect x="453.2" y="399.5" width="12.0" height="5.0" rx="2.2" fill="#7a7a7a"/>
<rect x="391.8" y="430.5" width="10.8" height="5.0" rx="2.2" fill="#7a7a7a"/>
</g></g>
<rect x="379.8" y="365.8" width="99.7" height="115.3" fill="url(#gv)"/>
<rect x="327.2" y="365.8" width="49.8" height="115.3" fill="url(#gv)" opacity="0.6"/>
<g clip-path="url(#gf1)"><rect x="325.2" y="365.8" width="5.5" height="115.30000000000001" fill="#555" filter="url(#b2)"/><rect x="327.2" y="365.8" width="2.2" height="115.30000000000001" fill="#2a2a2a" filter="url(#bl)"/><rect x="327.2" y="365.8" width="14" height="30" fill="#6a6a6a" opacity="0.5" filter="url(#b3)"/></g>
<rect x="441.5" y="472.0" width="38.2" height="8.6" fill="#fff"/>
<text x="442.9" y="478.9" font-size="7" font-weight="bold" textLength="35.8" lengthAdjust="spacingAndGlyphs" stroke="#000" stroke-width="0.35">probe: <tspan font-style="italic">GFP</tspan></text>
<text x="320.2" y="382.59999999999997" font-size="6.8" font-weight="bold" text-anchor="end" fill="#000" stroke="#000" stroke-width="0.42" >10</text>
<line x1="321.3" y1="380.2" x2="326.2" y2="380.2" stroke="#000" stroke-width="1.2"/>
<text x="320.2" y="393.5" font-size="6.8" font-weight="bold" text-anchor="end" fill="#000" stroke="#000" stroke-width="0.42" >8</text>
<line x1="321.3" y1="391.1" x2="326.2" y2="391.1" stroke="#000" stroke-width="1.2"/>
<text x="320.2" y="410.79999999999995" font-size="6.8" font-weight="bold" text-anchor="end" fill="#000" stroke="#000" stroke-width="0.42" >6</text>
<line x1="321.3" y1="408.4" x2="326.2" y2="408.4" stroke="#000" stroke-width="1.2"/>
<text x="320.2" y="426.79999999999995" font-size="6.8" font-weight="bold" text-anchor="end" fill="#000" stroke="#000" stroke-width="0.42" >5</text>
<line x1="321.3" y1="424.4" x2="326.2" y2="424.4" stroke="#000" stroke-width="1.2"/>
<text x="320.2" y="458.0" font-size="6.8" font-weight="bold" text-anchor="end" fill="#000" stroke="#000" stroke-width="0.42" >4</text>
<line x1="321.3" y1="455.6" x2="326.2" y2="455.6" stroke="#000" stroke-width="1.2"/>
<text x="320.2" y="480.2" font-size="6.8" font-weight="bold" text-anchor="end" fill="#000" stroke="#000" stroke-width="0.42" >3</text>
<line x1="321.3" y1="477.8" x2="326.2" y2="477.8" stroke="#000" stroke-width="1.2"/>
<text x="0" y="0" font-size="7.0" font-weight="bold" text-anchor="start" fill="#000" stroke="#000" stroke-width="0.42" transform="translate(333.8,363.8) rotate(-62)">Con 1</text>
<text x="0" y="0" font-size="7.0" font-weight="bold" text-anchor="start" fill="#000" stroke="#000" stroke-width="0.42" transform="translate(344.5,363.8) rotate(-62)">Con 2</text>
<text x="0" y="0" font-size="7.0" font-weight="bold" text-anchor="start" fill="#000" stroke="#000" stroke-width="0.42" transform="translate(358.0,363.8) rotate(-62)">WT 1</text>
<text x="0" y="0" font-size="7.0" font-weight="bold" text-anchor="start" fill="#000" stroke="#000" stroke-width="0.42" transform="translate(369.5,363.8) rotate(-62)">WT 2</text>
<text x="0" y="0" font-size="6.6" font-weight="bold" text-anchor="middle" font-style="italic" fill="#000" stroke="#000" stroke-width="0.42" transform="translate(388.1,359.9) rotate(-72)">spl</text>
<text x="0" y="0" font-size="6.6" font-weight="bold" text-anchor="middle" font-style="italic" fill="#000" stroke="#000" stroke-width="0.42" transform="translate(400.3,359.9) rotate(-72)">spl</text>
<text x="0" y="0" font-size="6.6" font-weight="bold" text-anchor="middle" font-style="italic" fill="#000" stroke="#000" stroke-width="0.42" transform="translate(413.1,359.9) rotate(-72)">spl</text>
<text x="0" y="0" font-size="6.6" font-weight="bold" text-anchor="middle" font-style="italic" fill="#000" stroke="#000" stroke-width="0.42" transform="translate(425.4,359.9) rotate(-72)">spl</text>
<text x="0" y="0" font-size="6.6" font-weight="bold" text-anchor="middle" font-style="italic" fill="#000" stroke="#000" stroke-width="0.42" transform="translate(438.6,359.9) rotate(-72)">spl</text>
<text x="0" y="0" font-size="6.6" font-weight="bold" text-anchor="middle" font-style="italic" fill="#000" stroke="#000" stroke-width="0.42" transform="translate(449.4,359.9) rotate(-72)">spl</text>
<text x="0" y="0" font-size="6.6" font-weight="bold" text-anchor="middle" font-style="italic" fill="#000" stroke="#000" stroke-width="0.42" transform="translate(462.3,359.9) rotate(-72)">spl</text>
<text x="0" y="0" font-size="6.6" font-weight="bold" text-anchor="middle" font-style="italic" fill="#000" stroke="#000" stroke-width="0.42" transform="translate(474.3,359.9) rotate(-72)">spl</text>
<path d="M381.3,352.2 L381.3,348.3 L429.6,348.3 L429.6,352" fill="none" stroke="#000" stroke-width="1.35"/>
<path d="M431.2,352 L431.2,348.3 L480.8,348.3 L480.8,352.2" fill="none" stroke="#000" stroke-width="1.35"/>
<text x="389.4" y="345.4" font-size="8.3" font-weight="bold" text-anchor="start" textLength="37.4" lengthAdjust="spacingAndGlyphs" fill="#000" stroke="#000" stroke-width="0.42" >Core-2 KO</text>
<text x="438.5" y="345.4" font-size="8.3" font-weight="bold" text-anchor="start" textLength="34.2" lengthAdjust="spacingAndGlyphs" fill="#000" stroke="#000" stroke-width="0.42" >Fuc-T KO</text>
<text x="0" y="0" font-size="6.4" font-weight="bold" text-anchor="middle" fill="#000" stroke="#000" stroke-width="0.3" transform="translate(336.6,485.4) rotate(-90)">1</text>
<text x="0" y="0" font-size="6.4" font-weight="bold" text-anchor="middle" fill="#000" stroke="#000" stroke-width="0.3" transform="translate(347.3,485.4) rotate(-90)">2</text>
<text x="0" y="0" font-size="6.4" font-weight="bold" text-anchor="middle" fill="#000" stroke="#000" stroke-width="0.3" transform="translate(360.3,485.4) rotate(-90)">3</text>
<text x="0" y="0" font-size="6.4" font-weight="bold" text-anchor="middle" fill="#000" stroke="#000" stroke-width="0.3" transform="translate(371.0,485.4) rotate(-90)">4</text>
<text x="0" y="0" font-size="6.4" font-weight="bold" text-anchor="middle" fill="#000" stroke="#000" stroke-width="0.3" transform="translate(387.3,485.4) rotate(-90)">5</text>
<text x="0" y="0" font-size="6.4" font-weight="bold" text-anchor="middle" fill="#000" stroke="#000" stroke-width="0.3" transform="translate(399.5,485.4) rotate(-90)">6</text>
<text x="0" y="0" font-size="6.4" font-weight="bold" text-anchor="middle" fill="#000" stroke="#000" stroke-width="0.3" transform="translate(412.3,485.4) rotate(-90)">7</text>
<text x="0" y="0" font-size="6.4" font-weight="bold" text-anchor="middle" fill="#000" stroke="#000" stroke-width="0.3" transform="translate(424.6,485.4) rotate(-90)">8</text>
<text x="0" y="0" font-size="6.4" font-weight="bold" text-anchor="middle" fill="#000" stroke="#000" stroke-width="0.3" transform="translate(437.8,485.4) rotate(-90)">9</text>
<text x="0" y="0" font-size="6.4" font-weight="bold" text-anchor="middle" fill="#000" stroke="#000" stroke-width="0.3" transform="translate(448.6,485.4) rotate(-90)">10</text>
<text x="0" y="0" font-size="6.4" font-weight="bold" text-anchor="middle" fill="#000" stroke="#000" stroke-width="0.3" transform="translate(461.5,485.4) rotate(-90)">11</text>
<text x="0" y="0" font-size="6.4" font-weight="bold" text-anchor="middle" fill="#000" stroke="#000" stroke-width="0.3" transform="translate(473.5,485.4) rotate(-90)">12</text>
<rect x="327.2" y="490.0" width="49.8" height="21.2" fill="#a4a4a4"/>
<rect x="327.2" y="490.0" width="49.8" height="21.2" fill="#555" filter="url(#noiseF2)" opacity="0.25"/>
<rect x="379.8" y="490.0" width="99.7" height="21.2" fill="#a4a4a4"/>
<rect x="379.8" y="490.0" width="99.7" height="21.2" fill="#555" filter="url(#noiseF2)" opacity="0.25"/>
<rect x="327.2" y="514.3" width="49.8" height="21.4" fill="#a4a4a4"/>
<rect x="327.2" y="514.3" width="49.8" height="21.4" fill="#555" filter="url(#noiseF2)" opacity="0.25"/>
<rect x="379.8" y="514.3" width="99.7" height="21.4" fill="#a4a4a4"/>
<rect x="379.8" y="514.3" width="99.7" height="21.4" fill="#555" filter="url(#noiseF2)" opacity="0.25"/>
<g filter="url(#b2)">
<rect x="328.1" y="499.7" width="12.5" height="4.6" rx="2.3" fill="#202020"/>
<rect x="338.8" y="497.6" width="12.5" height="4.4" rx="2.2" fill="#282828"/>
<rect x="351.8" y="495.0" width="12.5" height="5.2" rx="2.6" fill="#1a1a1a"/>
<rect x="362.4" y="495.1" width="12.5" height="5.0" rx="2.5" fill="#1e1e1e"/>
<rect x="380.5" y="497.9" width="9" height="3.5" rx="1.8" fill="#8a8a8a"/>
<rect x="390.2" y="495.2" width="14" height="8" rx="4.0" fill="#141414"/>
<rect x="404.0" y="497.7" width="12" height="4.6" rx="2.3" fill="#303030"/>
<rect x="416.3" y="498.4" width="12" height="4.4" rx="2.2" fill="#3a3a3a"/>
<rect x="429.5" y="499.0" width="12" height="4.4" rx="2.2" fill="#383838"/>
<rect x="439.8" y="498.9" width="13" height="6" rx="3.0" fill="#1e1e1e"/>
<rect x="453.2" y="498.9" width="12" height="4.6" rx="2.3" fill="#303030"/>
<rect x="466.2" y="501.4" width="10" height="4" rx="2.0" fill="#4a4a4a"/>
</g>
<g filter="url(#b1)">
<rect x="328.8" y="524.7" width="11" height="3.6" rx="1.8" fill="#4a4a4a"/>
<rect x="340.0" y="523.5" width="10" height="3.2" rx="1.6" fill="#707070"/>
<rect x="352.2" y="522.0" width="11.5" height="4.4" rx="2.2" fill="#262626"/>
<rect x="363.2" y="522.4" width="11" height="3.6" rx="1.8" fill="#4a4a4a"/>
<rect x="381.5" y="523.6" width="7" height="2.5" rx="1.2" fill="#999"/>
<rect x="392.7" y="522.9" width="9" height="4" rx="2.0" fill="#3a3a3a"/>
<rect x="406.5" y="524.2" width="7" height="2.5" rx="1.2" fill="#9a9a9a"/>
<rect x="418.8" y="524.2" width="7" height="2.5" rx="1.2" fill="#999"/>
<rect x="431.5" y="524.5" width="8" height="3" rx="1.5" fill="#858585"/>
<rect x="441.8" y="526.3" width="9" height="3" rx="1.5" fill="#777"/>
<rect x="454.7" y="526.0" width="9" height="3" rx="1.5" fill="#7a7a7a"/>
<rect x="467.2" y="526.8" width="8" height="2.5" rx="1.2" fill="#999"/>
</g>
<rect x="442.2" y="491.0" width="37" height="6.3" fill="#fff"/>
<text x="442.9" y="496.4" font-size="7" font-weight="bold" textLength="35.8" lengthAdjust="spacingAndGlyphs" stroke="#000" stroke-width="0.35">probe: <tspan font-style="italic">ABL</tspan></text>
<rect x="442.2" y="515.4" width="37" height="6.3" fill="#fff"/>
<text x="442.9" y="520.8" font-size="7" font-weight="bold" textLength="35.8" lengthAdjust="spacingAndGlyphs" stroke="#000" stroke-width="0.35">probe: <tspan font-style="italic">ABL</tspan></text>
<text x="317.3" y="505.0" font-size="6.9" font-weight="bold" font-style="italic" text-anchor="end" textLength="32.8" lengthAdjust="spacingAndGlyphs" stroke="#000" stroke-width="0.3">BCR-ABL1</text>
<path d="M319.3,500.1 L325.6,502.6 L319.3,505.1 Z" fill="#000"/>
<text x="318" y="529.0" font-size="6.8" font-weight="bold" text-anchor="end" textLength="28.2" lengthAdjust="spacingAndGlyphs" stroke="#000" stroke-width="0.3">mu c-<tspan font-style="italic">Abl</tspan></text>
<path d="M319.3,524.6 L325.6,527.1 L319.3,529.6 Z" fill="#000"/>
<text x="324.4" y="537.6" font-size="6.5" font-weight="bold" text-anchor="end" textLength="22.6" lengthAdjust="spacingAndGlyphs" fill="#000" stroke="#000" stroke-width="0.2" >proviral</text>
<text x="324.0" y="543.9" font-size="6.5" font-weight="bold" text-anchor="end" textLength="22.1" lengthAdjust="spacingAndGlyphs" fill="#000" stroke="#000" stroke-width="0.2" >copy #:</text>
<text x="0" y="0" font-size="6.6" font-weight="bold" text-anchor="middle" fill="#000" stroke="#000" stroke-width="0.1" transform="translate(336.6,541.2) rotate(-90)">1.0</text>
<text x="0" y="0" font-size="6.6" font-weight="bold" text-anchor="middle" fill="#000" stroke="#000" stroke-width="0.1" transform="translate(347.3,541.2) rotate(-90)">1.0</text>
<text x="0" y="0" font-size="6.6" font-weight="bold" text-anchor="middle" fill="#000" stroke="#000" stroke-width="0.1" transform="translate(360.3,541.2) rotate(-90)">0.8</text>
<text x="0" y="0" font-size="6.6" font-weight="bold" text-anchor="middle" fill="#000" stroke="#000" stroke-width="0.1" transform="translate(371.0,541.2) rotate(-90)">1.1</text>
<text x="0" y="0" font-size="6.6" font-weight="bold" text-anchor="middle" fill="#000" stroke="#000" stroke-width="0.1" transform="translate(387.3,541.2) rotate(-90)">0.7</text>
<text x="0" y="0" font-size="6.6" font-weight="bold" text-anchor="middle" fill="#000" stroke="#000" stroke-width="0.1" transform="translate(399.5,541.2) rotate(-90)">0.8</text>
<text x="0" y="0" font-size="6.6" font-weight="bold" text-anchor="middle" fill="#000" stroke="#000" stroke-width="0.1" transform="translate(412.3,541.2) rotate(-90)">1.8</text>
<text x="0" y="0" font-size="6.6" font-weight="bold" text-anchor="middle" fill="#000" stroke="#000" stroke-width="0.1" transform="translate(424.6,541.2) rotate(-90)">1.3</text>
<text x="0" y="0" font-size="6.6" font-weight="bold" text-anchor="middle" fill="#000" stroke="#000" stroke-width="0.1" transform="translate(437.8,541.2) rotate(-90)">0.5</text>
<text x="0" y="0" font-size="6.6" font-weight="bold" text-anchor="middle" fill="#000" stroke="#000" stroke-width="0.1" transform="translate(448.6,541.2) rotate(-90)">1.3</text>
<text x="0" y="0" font-size="6.6" font-weight="bold" text-anchor="middle" fill="#000" stroke="#000" stroke-width="0.1" transform="translate(461.5,541.2) rotate(-90)">0.7</text>
<text x="0" y="0" font-size="6.6" font-weight="bold" text-anchor="middle" fill="#000" stroke="#000" stroke-width="0.1" transform="translate(473.5,541.2) rotate(-90)">0.5</text>
</svg>
</body></html>
